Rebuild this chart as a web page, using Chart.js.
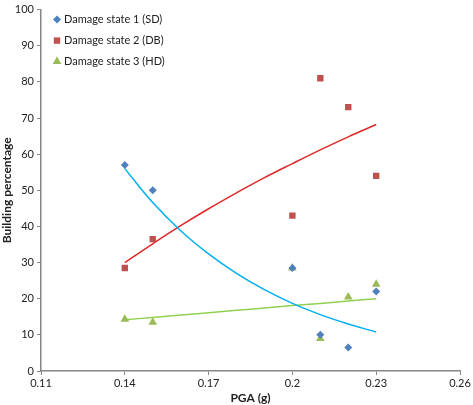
<!DOCTYPE html>
<html>
<head>
<meta charset="utf-8">
<script src="https://cdn.jsdelivr.net/npm/chart.js@4.4.1/dist/chart.umd.min.js"></script>
<style>
  html, body { margin: 0; padding: 0; background: #fff; }
  #wrap { width: 473px; height: 405px; }
</style>
</head>
<body>
<div id="wrap"><canvas id="chart"></canvas></div>
<script>
// observed points
const pga = [0.14, 0.15, 0.2, 0.21, 0.22, 0.23];
const sdValues = [57, 50, 28.5, 10, 6.5, 22];
const dbValues = [28.5, 36.5, 43, 81, 73, 54];
const hdValues = [14.3, 13.5, 28.5, 9, 20.5, 24];

// trend lines
const trendX = [0.14, 0.15, 0.16, 0.17, 0.18, 0.19, 0.2, 0.21, 0.22, 0.23];
const sdTrend = [56, 46.6, 38.8, 32.4, 27, 22.5, 18.7, 15.6, 13, 10.8];
const dbTrend = [30, 35.2, 40.2, 44.9, 49.3, 53.5, 57.4, 61.2, 64.8, 68.2];
const hdTrend = [14.2, 14.8, 15.5, 16.1, 16.8, 17.4, 18.1, 18.7, 19.4, 20];

const seriesNames = ['Damage state 1 (SD)', 'Damage state 2 (DB)', 'Damage state 3 (HD)'];
const xTicks = [0.11, 0.14, 0.17, 0.2, 0.23, 0.26];

const FONT = 'Lato, "Open Sans", sans-serif';
const axisGrey = '#868686';

function pts(xs, ys) {
    return xs.map((x, i) => ({ x: x, y: ys[i] }));
}

function trendSet(ys, color) {
    return {
        data: pts(trendX, ys),
        showLine: true,
        borderColor: color,
        borderWidth: 1.5,
        pointRadius: 0,
        tension: 0.4,
        fill: false,
        isTrend: true
    };
}

// legend drawn inside the plot area, top left
const insideLegend = {
    id: 'insideLegend',
    afterDatasetsDraw(chart) {
        const ctx = chart.ctx;
        const area = chart.chartArea;
        ctx.save();
        ctx.font = '11px ' + FONT;
        ctx.fillStyle = '#222';
        ctx.textBaseline = 'middle';
        chart.data.datasets.forEach((ds, i) => {
            if (ds.isTrend) return;
            const y = area.top + 10 + i * 21;
            const x = area.left + 16;
            ctx.fillStyle = ds.backgroundColor;
            ctx.strokeStyle = ds.backgroundColor;
            Chart.helpers.drawPoint(ctx, {
                pointStyle: ds.pointStyle,
                radius: ds.pointRadius,
                rotation: ds.pointRotation || 0,
                borderWidth: 0
            }, x, y);
            ctx.fillStyle = '#222';
            ctx.fillText(ds.label, x + 7, y);
        });
        ctx.restore();
    }
};

const chart = new Chart(document.getElementById('chart'), {
    type: 'scatter',
    data: {
        datasets: [
            {
                label: seriesNames[0],
                data: pts(pga, sdValues),
                pointStyle: 'rectRot',
                pointRadius: 4,
                backgroundColor: '#4F81BD',
                borderColor: '#4F81BD',
                borderWidth: 0
            },
            {
                label: seriesNames[1],
                data: pts(pga, dbValues),
                pointStyle: 'rect',
                pointRadius: 4.5,
                backgroundColor: '#C0504D',
                borderColor: '#C0504D',
                borderWidth: 0
            },
            {
                label: seriesNames[2],
                data: pts(pga, hdValues),
                pointStyle: 'triangle',
                pointRadius: 5,
                backgroundColor: '#9BBB59',
                borderColor: '#9BBB59',
                borderWidth: 0
            },
            trendSet(sdTrend, '#00B0F0'),
            trendSet(dbTrend, '#E02828'),
            trendSet(hdTrend, '#92D050')
        ]
    },
    options: {
        responsive: true,
        maintainAspectRatio: false,
        animation: false,
        layout: { padding: { left: 0, right: 13, top: 8, bottom: 0 } },
        plugins: {
            legend: { display: false },
            tooltip: { enabled: false }
        },
        scales: {
            x: {
                type: 'linear',
                min: 0.11,
                max: 0.26,
                afterBuildTicks: (scale) => {
                    scale.ticks = xTicks.map(v => ({ value: v }));
                },
                afterFit: (scale) => { scale.height = 34; },
                ticks: {
                    color: '#222',
                    font: { family: FONT, size: 11 },
                    padding: 2,
                    maxRotation: 0,
                    callback: (v) => String(v)
                },
                grid: {
                    drawOnChartArea: false,
                    drawTicks: true,
                    tickLength: 4,
                    color: axisGrey
                },
                border: { display: true, color: axisGrey, width: 1.5 },
                title: {
                    display: true,
                    text: 'PGA (g)',
                    color: '#222',
                    font: { family: FONT, size: 12, weight: 'bold' },
                    padding: { top: 0, bottom: 0 }
                }
            },
            y: {
                min: 0,
                max: 100,
                afterFit: (scale) => { scale.width = 41; },
                ticks: {
                    stepSize: 10,
                    color: '#222',
                    font: { family: FONT, size: 11 },
                    padding: 3
                },
                grid: {
                    drawOnChartArea: false,
                    drawTicks: true,
                    tickLength: 4,
                    color: axisGrey
                },
                border: { display: true, color: axisGrey, width: 1.5 },
                title: {
                    display: true,
                    text: 'Building percentage',
                    color: '#222',
                    font: { family: FONT, size: 12, weight: 'bold' },
                    padding: { top: 0, bottom: 0 }
                }
            }
        }
    },
    plugins: [insideLegend]
});
</script>
</body>
</html>
